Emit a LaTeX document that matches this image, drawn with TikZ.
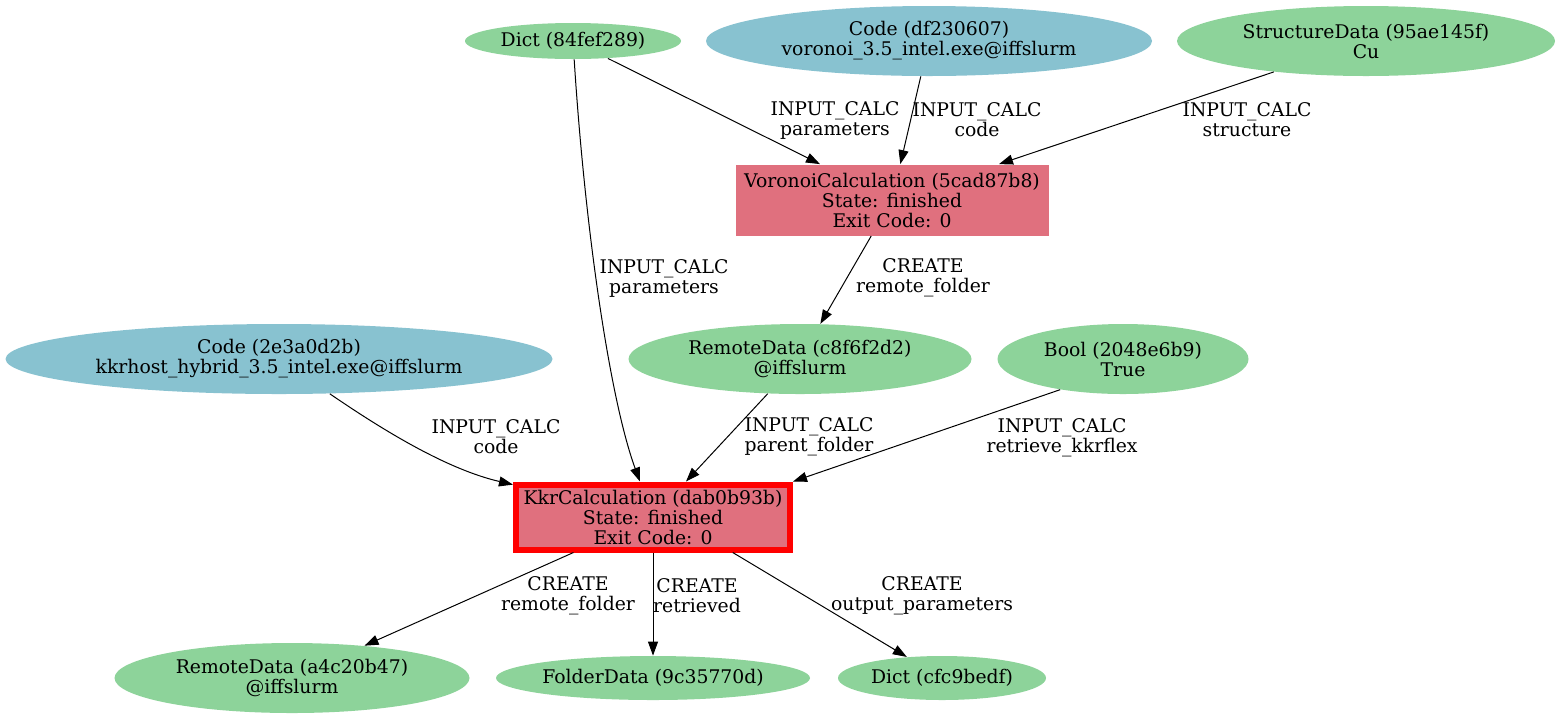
\documentclass[tikz,border=0pt]{standalone}
\usepackage{fontspec}
\setmainfont{DejaVu Serif}
\usepackage{xcolor}
\usetikzlibrary{shapes.geometric, arrows.meta}
\definecolor{datagreen}{HTML}{8DD39A}
\definecolor{codeblue}{HTML}{88C2D0}
\definecolor{calcred}{HTML}{E0707E}
\tikzset{
  data/.style  = {ellipse, fill=datagreen, inner sep=0pt, align=center,
                  font=\fontsize{9.4}{10}\selectfont},
  code/.style  = {ellipse, fill=codeblue, inner sep=0pt, align=center,
                  font=\fontsize{9.4}{10}\selectfont},
  calc/.style  = {rectangle, fill=calcred, inner sep=0pt, align=center,
                  font=\fontsize{9.4}{10}\selectfont},
  lbl/.style   = {inner sep=0pt, align=center, font=\fontsize{9.4}{10}\selectfont},
  arr/.style   = {-{Triangle[length=7pt,width=5pt]}, line width=0.5pt, draw=black}
}
\begin{document}
\begin{tikzpicture}[x=0.5pt, y=-0.5pt]
  \useasboundingbox (0,0) rectangle (1561,719);
  % inputs
  \node[data, minimum width=108pt, minimum height=18pt] (dicta) at (573,41) {Dict (84fef289)};
  \node[code, minimum width=223pt, minimum height=35pt] (codea) at (929,41) {Code (df230607)\\voronoi\_3.5\_intel.exe@iffslurm};
  \node[data, minimum width=189pt, minimum height=35pt] (struc) at (1366,41) {StructureData (95ae145f)\\Cu};
  \node[calc, minimum width=156.5pt, minimum height=35.5pt] (voro) at (892,200) {VoronoiCalculation (5cad87b8)\\State: finished\\Exit Code: 0};
  \node[code, minimum width=273.5pt, minimum height=35pt] (codeb) at (279,359) {Code (2e3a0d2b)\\kkrhost\_hybrid\_3.5\_intel.exe@iffslurm};
  \node[data, minimum width=171.5pt, minimum height=35pt] (rema) at (800,359) {RemoteData (c8f6f2d2)\\@iffslurm};
  \node[data, minimum width=125.5pt, minimum height=35pt] (flag) at (1123,359) {Bool (2048e6b9)\\True};
  \node[calc, draw=red, line width=3pt, minimum width=137pt, minimum height=32.5pt] (kkr) at (653,517) {KkrCalculation (dab0b93b)\\State: finished\\Exit Code: 0};
  % outputs
  \node[data, minimum width=177.5pt, minimum height=35pt] (remb) at (292,678) {RemoteData (a4c20b47)\\@iffslurm};
  \node[data, minimum width=157pt, minimum height=22pt] (fold) at (653,678) {FolderData (9c35770d)};
  \node[data, minimum width=104pt, minimum height=22pt] (dictb) at (942,678) {Dict (cfc9bedf)};
  % links
  \draw[arr] (dicta) -- (voro); \draw[arr] (codea) -- (voro); \draw[arr] (struc) -- (voro);
  \draw[arr] (voro) -- (rema);
  \draw[arr] (dicta) .. controls (585,230) and (610,400) .. (kkr);
  \draw[arr] (codeb) .. controls (390,435) and (450,470) .. (kkr);
  \draw[arr] (rema) -- (kkr); \draw[arr] (flag.-154) -- (kkr.north east);
  \draw[arr] (kkr) -- (remb); \draw[arr] (kkr) -- (fold); \draw[arr] (kkr.-24) -- (dictb);
  % labels
  \node[lbl] (la) at (835,120) {INPUT\_CALC\\parameters};
  \node[lbl] (lb) at (977,120) {INPUT\_CALC\\code};
  \node[lbl] (lc) at (1247,120) {INPUT\_CALC\\structure};
  \node[lbl] (ld) at (664,278) {INPUT\_CALC\\parameters};
  \node[lbl] (le) at (923,278) {CREATE\\remote\_folder};
  \node[lbl] (lf) at (496,437) {INPUT\_CALC\\code};
  \node[lbl] (lg) at (809,437) {INPUT\_CALC\\parent\_folder};
  \node[lbl] (lh) at (1062,438) {INPUT\_CALC\\retrieve\_kkrflex};
  \node[lbl] (li) at (568,596) {CREATE\\remote\_folder};
  \node[lbl] (lj) at (697,596) {CREATE\\retrieved};
  \node[lbl] (lk) at (922,596) {CREATE\\output\_parameters};
\end{tikzpicture}
\end{document}
